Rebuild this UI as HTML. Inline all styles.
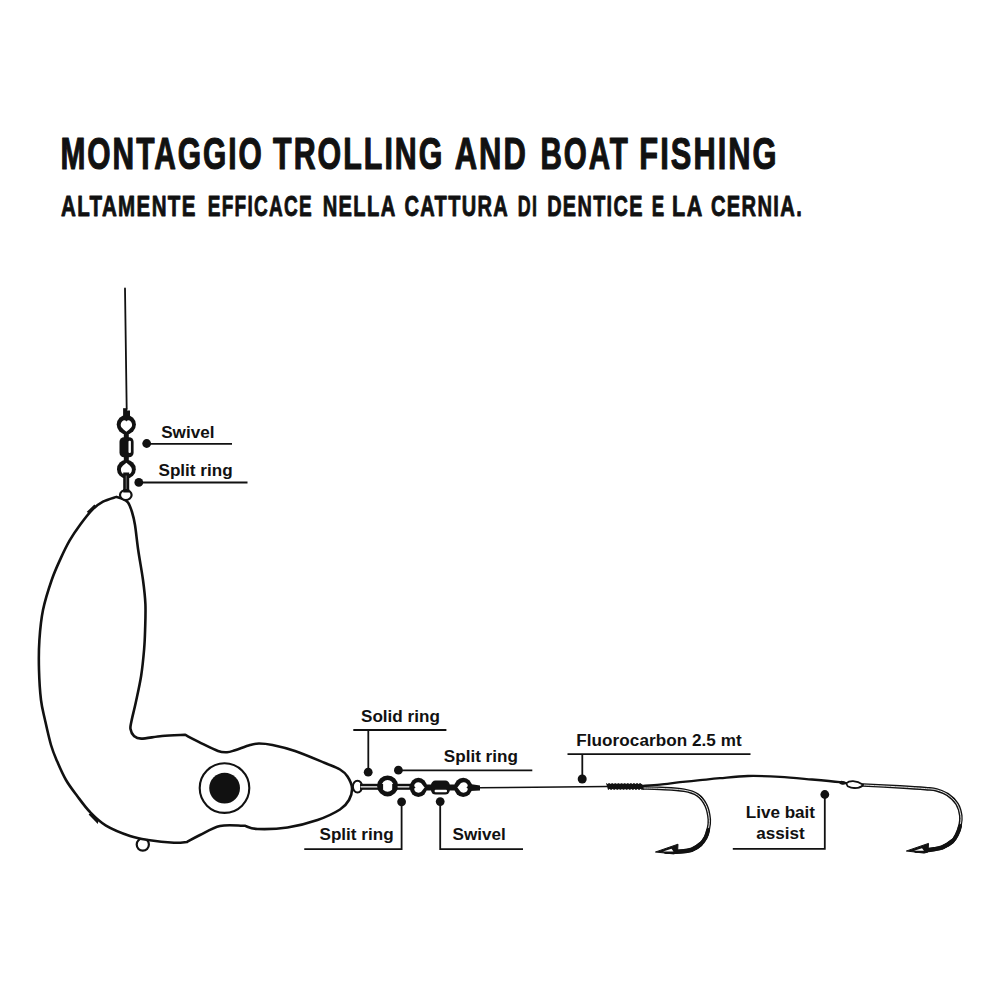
<!DOCTYPE html>
<html><head><meta charset="utf-8">
<style>
html,body{margin:0;padding:0;background:#fff;width:1000px;height:1000px;overflow:hidden}
body{position:relative;font-family:"Liberation Sans",sans-serif;color:#111}
.t{position:absolute;white-space:nowrap;font-weight:bold;transform-origin:0 0;line-height:1}
svg{position:absolute;left:0;top:0}
.lb{font-family:"Liberation Sans",sans-serif;font-weight:bold;font-size:17.1px;fill:#111}
</style></head><body>
<svg width="1000" height="1000" viewBox="0 0 1000 1000">
<g fill="none" stroke="#111" stroke-linecap="round" stroke-linejoin="round">
 <line x1="125" y1="288.5" x2="126.7" y2="409" stroke-width="1.8"/>
 <circle cx="142.8" cy="844.6" r="6.1" stroke-width="2.2" fill="#fff"/>
 <ellipse cx="357.5" cy="786.6" rx="4.6" ry="5.9" stroke-width="2" fill="#fff"/>
 <path d="M116.50 496.90 C117.42 497.17 120.08 497.58 122.00 498.50 C123.92 499.42 126.33 500.15 128.00 502.40 C129.67 504.65 130.83 508.23 132.00 512.00 C133.17 515.77 133.97 518.67 135.00 525.00 C136.03 531.33 136.87 540.83 138.20 550.00 C139.53 559.17 141.80 571.00 143.00 580.00 C144.20 589.00 145.05 595.67 145.40 604.00 C145.75 612.33 145.32 622.42 145.10 630.00 C144.88 637.58 144.75 641.92 144.10 649.50 C143.45 657.08 142.55 666.83 141.20 675.50 C139.85 684.17 137.62 693.92 136.00 701.50 C134.38 709.08 132.42 716.42 131.50 721.00 C130.58 725.58 130.08 726.50 130.50 729.00 C130.92 731.50 132.22 734.40 134.00 736.00 C135.78 737.60 136.53 738.60 141.20 738.60 C145.87 738.60 154.73 736.65 162.00 736.00 C169.27 735.35 181.00 734.92 184.80 734.70 C187.50 736.10 195.47 740.38 201.00 743.10 C206.53 745.82 213.67 749.48 218.00 751.00 C222.33 752.52 224.17 752.33 227.00 752.20 C229.83 752.08 231.17 751.45 235.00 750.25 C238.83 749.05 246.00 746.12 250.00 745.00 C254.00 743.88 255.25 743.50 259.00 743.50 C262.75 743.50 266.50 743.75 272.50 745.00 C278.50 746.25 286.25 748.00 295.00 751.00 C303.75 754.00 317.50 759.92 325.00 763.00 C332.50 766.08 336.25 767.25 340.00 769.50 C343.75 771.75 345.50 773.42 347.50 776.50 C349.50 779.58 351.75 784.08 352.00 788.00 C352.25 791.92 351.00 796.42 349.00 800.00 C347.00 803.58 345.25 806.17 340.00 809.50 C334.75 812.83 326.25 817.00 317.50 820.00 C308.75 823.00 297.50 826.00 287.50 827.50 C277.50 829.00 264.50 829.25 257.50 829.00 C250.50 828.75 247.50 826.50 245.50 826.00 C245.00 825.95 246.75 825.70 242.50 825.70 C238.25 825.70 227.08 824.45 220.00 826.00 C212.92 827.55 205.50 832.33 200.00 835.00 C194.50 837.67 189.17 840.83 187.00 842.00 C184.83 842.12 180.50 843.03 174.00 842.70 C167.50 842.37 155.33 841.12 148.00 840.00 C140.67 838.88 137.00 838.40 130.00 836.00 C123.00 833.60 112.67 829.60 106.00 825.60 C99.33 821.60 94.80 816.93 90.00 812.00 C85.20 807.07 81.20 801.33 77.20 796.00 C73.20 790.67 69.37 785.83 66.00 780.00 C62.63 774.17 59.50 766.83 57.00 761.00 C54.50 755.17 53.00 751.83 51.00 745.00 C49.00 738.17 46.67 727.50 45.00 720.00 C43.33 712.50 42.00 708.33 41.00 700.00 C40.00 691.67 39.27 680.00 39.00 670.00 C38.73 660.00 38.73 650.00 39.40 640.00 C40.07 630.00 40.95 620.00 43.00 610.00 C45.05 600.00 48.75 588.60 51.70 580.00 C54.65 571.40 57.70 565.00 60.70 558.40 C63.70 551.80 66.40 546.10 69.70 540.40 C73.00 534.70 76.75 529.30 80.50 524.20 C84.25 519.10 88.45 513.55 92.20 509.80 C95.95 506.05 98.95 503.85 103.00 501.70 C107.05 499.55 114.25 497.70 116.50 496.90 Z" stroke-width="2.6" fill="#fff"/>
 <path d="M86.8 511.8 L94.4 504.6 L96.4 506.4 L88.6 513.6 Z" fill="#111" stroke="none"/>
 <path d="M88.6 814.6 L91 812.6 L98.6 820 L97.8 824 Z" fill="#111" stroke="none"/>
 <circle cx="224.5" cy="788.1" r="24.8" stroke-width="2.1"/>
 <circle cx="224.6" cy="788.1" r="15.4" fill="#111" stroke="none"/>
 <!-- top chain -->
 <rect x="123.1" y="408.2" width="4" height="8" fill="#111" stroke="none"/>
 <rect x="125" y="410.5" width="5" height="6" fill="#111" stroke="none"/>
 <circle cx="126.3" cy="424.6" r="9.6" fill="#111" stroke="none"/>
 <path d="M0.00 5.85 C-2.28 3.51 -5.70 2.11 -5.70 -1.17 C-5.70 -4.21 -3.42 -5.85 -1.94 -5.85 C-0.80 -5.85 0.00 -4.91 0.00 -4.21 C0.00 -4.91 0.80 -5.85 1.94 -5.85 C3.42 -5.85 5.70 -4.21 5.70 -1.17 C5.70 2.11 2.28 3.51 0.00 5.85 Z" transform="translate(126.4 426) rotate(0)" fill="#fff" stroke="none"/>
 <rect x="123.8" y="432" width="5" height="7" fill="#111" stroke="none"/>
 <rect x="119.5" y="437.2" width="14.1" height="20.1" rx="4.5" fill="#111" stroke="none"/>
 <rect x="128.5" y="440.8" width="2.4" height="12.3" rx="1" fill="#fff" stroke="none"/>
 <rect x="123.8" y="456" width="5" height="5" fill="#111" stroke="none"/>
 <circle cx="126.4" cy="469.2" r="9.4" fill="#111" stroke="none"/>
 <path d="M0.00 5.75 C-2.20 3.45 -5.50 2.07 -5.50 -1.15 C-5.50 -4.14 -3.30 -5.75 -1.87 -5.75 C-0.77 -5.75 0.00 -4.83 0.00 -4.14 C0.00 -4.83 0.77 -5.75 1.87 -5.75 C3.30 -5.75 5.50 -4.14 5.50 -1.15 C5.50 2.07 2.20 3.45 0.00 5.75 Z" transform="translate(126.4 468.6) rotate(180)" fill="#fff" stroke="none"/>
 <rect x="123.2" y="472.5" width="6" height="20" fill="#111" stroke="none"/>
 <line x1="126.2" y1="476" x2="126.2" y2="490" stroke="#777" stroke-width="1"/>
 <ellipse cx="125.8" cy="495" rx="5.8" ry="5" stroke-width="2.2" fill="#fff"/>
 <rect x="123.2" y="489" width="6" height="3.5" fill="#111" stroke="none"/>
 <circle cx="146.7" cy="443.5" r="4.4" fill="#111" stroke="none"/>
 <line x1="146.7" y1="443.9" x2="232" y2="443.9" stroke-width="1.8" stroke-linecap="butt"/>
 <circle cx="138.8" cy="482.4" r="4.4" fill="#111" stroke="none"/>
 <line x1="138.8" y1="482.5" x2="247.5" y2="482.5" stroke-width="1.8" stroke-linecap="butt"/>
 <!-- right chain -->
 <rect x="360" y="783.8" width="19" height="6" fill="#111" stroke="none"/>
 <line x1="361" y1="786.8" x2="378" y2="786.8" stroke="#fff" stroke-width="1.2"/>
 <circle cx="387.6" cy="785.9" r="8.2" stroke-width="4.6"/>
 <rect x="380.5" y="784" width="2.6" height="5.4" fill="#111" stroke="none"/>
 <rect x="392.2" y="784" width="2.6" height="5.4" fill="#111" stroke="none"/>
 <rect x="396" y="783.8" width="15" height="6" fill="#111" stroke="none"/>
 <line x1="398" y1="786.8" x2="409" y2="786.8" stroke="#fff" stroke-width="1.2"/>
 <ellipse cx="418.4" cy="787.4" rx="8.6" ry="9.6" fill="#111" stroke="none"/>
 <path d="M0.00 5.25 C-2.10 3.15 -5.25 1.89 -5.25 -1.05 C-5.25 -3.78 -3.15 -5.25 -1.79 -5.25 C-0.74 -5.25 0.00 -4.41 0.00 -3.78 C0.00 -4.41 0.74 -5.25 1.79 -5.25 C3.15 -5.25 5.25 -3.78 5.25 -1.05 C5.25 1.89 2.10 3.15 0.00 5.25 Z" transform="translate(419.5 787.4) rotate(-90)" fill="#fff" stroke="none"/>
 <rect x="426" y="784.5" width="6" height="6" fill="#111" stroke="none"/>
 <rect x="431" y="780.6" width="18.8" height="14" rx="4.5" fill="#111" stroke="none"/>
 <rect x="434.6" y="789.8" width="12.4" height="2.4" rx="1" fill="#fff" stroke="none"/>
 <rect x="449" y="784.5" width="6" height="6" fill="#111" stroke="none"/>
 <ellipse cx="463.2" cy="787.4" rx="9" ry="9.6" fill="#111" stroke="none"/>
 <path d="M0.00 5.25 C-2.10 3.15 -5.25 1.89 -5.25 -1.05 C-5.25 -3.78 -3.15 -5.25 -1.79 -5.25 C-0.74 -5.25 0.00 -4.41 0.00 -3.78 C0.00 -4.41 0.74 -5.25 1.79 -5.25 C3.15 -5.25 5.25 -3.78 5.25 -1.05 C5.25 1.89 2.10 3.15 0.00 5.25 Z" transform="translate(462.5 787.4) rotate(90)" fill="#fff" stroke="none"/>
 <path d="M470 784 L480 785.5 L480 790.5 L470 791 Z" fill="#111" stroke="none"/>
 <path d="M479 787.8 L560 787 L607 786.5" stroke-width="1.6"/>
 <!-- wrap -->
 <path d="M606 783.2 L641 783.2 L644 786.6 L644 789.8 L608 789.8 Z" fill="#111" stroke="none"/>
 <line x1="607" y1="783.4" x2="642" y2="783.4" stroke="#fff" stroke-width="0.9" stroke-dasharray="1.2 1.9" stroke-linecap="butt"/>
 <line x1="609" y1="789.5" x2="643" y2="789.5" stroke="#fff" stroke-width="0.9" stroke-dasharray="1.2 1.9" stroke-linecap="butt"/>
 <!-- snell & hooks -->
 <path d="M642.00 786.00 C645.00 785.77 653.67 785.23 660.00 784.60 C666.33 783.97 673.33 782.93 680.00 782.20 C686.67 781.47 693.33 780.87 700.00 780.20 C706.67 779.53 712.00 778.90 720.00 778.20 C728.00 777.50 738.00 776.23 748.00 776.00 C758.00 775.77 769.33 776.22 780.00 776.80 C790.67 777.38 802.00 778.60 812.00 779.50 C822.00 780.40 834.00 781.53 840.00 782.20 C846.00 782.87 846.67 783.28 848.00 783.50" stroke-width="2.3"/>
 <path d="M644.00 788.00 C646.67 788.07 653.33 788.03 660.00 788.40 C666.67 788.77 677.73 789.10 684.00 790.20 C690.27 791.30 693.93 792.45 697.60 795.00 C701.27 797.55 704.05 801.42 706.00 805.50 C707.95 809.58 708.95 815.42 709.30 819.50 C709.65 823.58 708.72 827.00 708.10 830.00 C707.48 833.00 706.87 835.12 705.60 837.50 C704.33 839.88 702.77 842.28 700.50 844.30 C698.23 846.32 695.42 848.38 692.00 849.60 C688.58 850.82 684.33 851.23 680.00 851.60 C675.67 851.97 668.33 851.77 666.00 851.80" stroke-width="3.6"/>
 <path d="M644.00 788.00 C646.67 788.07 653.33 788.03 660.00 788.40 C666.67 788.77 677.73 789.10 684.00 790.20 C690.27 791.30 693.93 792.45 697.60 795.00 C701.27 797.55 704.05 801.42 706.00 805.50 C707.95 809.58 708.95 815.42 709.30 819.50 C709.65 823.58 708.72 827.00 708.10 830.00" stroke="#fff" stroke-width="0.9"/>
 <path d="M708.10 830.00 C707.48 833.00 706.87 835.12 705.60 837.50 C704.33 839.88 702.77 842.28 700.50 844.30 C698.23 846.32 695.42 848.38 692.00 849.60" stroke-width="4.0"/>
 <path d="M700.50 844.30 C698.23 846.32 695.42 848.38 692.00 849.60 C688.58 850.82 684.33 851.23 680.00 851.60 C675.67 851.97 668.33 851.77 666.00 851.80" stroke-width="4.5"/>
 <path d="M655.8 851.9 L678 844.2 L677.5 852.8 L674 853.8 Z" fill="#111" stroke-width="1" stroke-linejoin="miter"/>
 <path d="M663 851.6 L671.5 848.8 L673.5 851.6 Z" fill="#fff" stroke="none"/>
 <path d="M863.00 785.00 C869.17 785.32 889.58 786.30 900.00 786.90 C910.42 787.50 919.40 788.10 925.50 788.60 C931.60 789.10 932.92 788.90 936.60 789.90 C940.28 790.90 944.20 792.27 947.60 794.60 C951.00 796.93 954.80 800.37 957.00 803.90 C959.20 807.43 960.30 812.12 960.80 815.80 C961.30 819.48 960.63 822.88 960.00 826.00 C959.37 829.12 958.28 831.95 957.00 834.50 C955.72 837.05 954.72 839.17 952.30 841.30 C949.88 843.43 945.55 845.98 942.50 847.30 C939.45 848.62 936.75 848.72 934.00 849.20 C931.25 849.68 929.00 849.95 926.00 850.20 C923.00 850.45 917.67 850.62 916.00 850.70" stroke-width="3.6"/>
 <path d="M863.00 785.00 C869.17 785.32 889.58 786.30 900.00 786.90 C910.42 787.50 919.40 788.10 925.50 788.60 C931.60 789.10 932.92 788.90 936.60 789.90 C940.28 790.90 944.20 792.27 947.60 794.60 C951.00 796.93 954.80 800.37 957.00 803.90 C959.20 807.43 960.30 812.12 960.80 815.80 C961.30 819.48 960.63 822.88 960.00 826.00" stroke="#fff" stroke-width="0.9"/>
 <path d="M960.00 826.00 C959.37 829.12 958.28 831.95 957.00 834.50 C955.72 837.05 954.72 839.17 952.30 841.30 C949.88 843.43 945.55 845.98 942.50 847.30" stroke-width="4.0"/>
 <path d="M952.30 841.30 C949.88 843.43 945.55 845.98 942.50 847.30 C939.45 848.62 936.75 848.72 934.00 849.20 C931.25 849.68 929.00 849.95 926.00 850.20 C923.00 850.45 917.67 850.62 916.00 850.70" stroke-width="4.5"/>
 <path d="M906.7 850.9 L928.5 843.4 L928 852 L924.5 853 Z" fill="#111" stroke-width="1" stroke-linejoin="miter"/>
 <path d="M914 850.7 L922 848.2 L924 850.8 Z" fill="#fff" stroke="none"/>
 <path d="M846.2 783.4 C849 780.6, 856 779.8, 863.2 784.8 C861 788.4, 853 789.2, 847.6 786.2 Z" stroke-width="1.7" fill="#fff"/>
 <path d="M853 787.6 C856 788.4, 860 787.6, 862.6 785.4" stroke-width="1.2"/>
 <ellipse cx="842.3" cy="782.8" rx="3.2" ry="1.9" transform="rotate(8 842.3 782.8)" fill="#111" stroke="none"/>
 <!-- label lines -->
 <line x1="353.3" y1="730" x2="446.4" y2="730" stroke-width="1.8" stroke-linecap="butt"/>
 <line x1="368.3" y1="730" x2="368.3" y2="772" stroke-width="1.8" stroke-linecap="butt"/>
 <circle cx="368.2" cy="772.2" r="4.4" fill="#111" stroke="none"/>
 <circle cx="398.4" cy="770.2" r="4.4" fill="#111" stroke="none"/>
 <line x1="398.4" y1="770.4" x2="532.3" y2="770.4" stroke-width="1.8" stroke-linecap="butt"/>
 <circle cx="401.6" cy="801.8" r="4.4" fill="#111" stroke="none"/>
 <polyline points="401.6,802 401.6,849.2 304.25,849.2" stroke-width="1.8" stroke-linecap="butt" stroke-linejoin="miter"/>
 <circle cx="440.2" cy="801.6" r="4.4" fill="#111" stroke="none"/>
 <polyline points="440.2,802 440.2,849.2 523,849.2" stroke-width="1.8" stroke-linecap="butt" stroke-linejoin="miter"/>
 <line x1="567.5" y1="754.2" x2="750.5" y2="754.2" stroke-width="1.8" stroke-linecap="butt"/>
 <line x1="582.3" y1="754" x2="582.3" y2="779" stroke-width="1.8" stroke-linecap="butt"/>
 <circle cx="582.2" cy="779" r="4.5" fill="#111" stroke="none"/>
 <circle cx="824.8" cy="794.5" r="4.4" fill="#111" stroke="none"/>
 <polyline points="824.8,794.5 824.8,848.8 732.8,848.8" stroke-width="1.8" stroke-linecap="butt" stroke-linejoin="miter"/>
</g>
<g font-family="Liberation Sans, sans-serif" font-weight="bold" fill="#111">
<g font-size="45" stroke="#111" stroke-width="1.2" stroke-linejoin="round">
<text transform="translate(60.40 168.8) scale(0.6647 1)" letter-spacing="3">MONTAGGIO</text>
<text transform="translate(273.07 168.8) scale(0.6750 1)" letter-spacing="3">TROLLING</text>
<text transform="translate(454.66 168.8) scale(0.6883 1)" letter-spacing="3">AND</text>
<text transform="translate(540.42 168.8) scale(0.6570 1)" letter-spacing="3">BOAT</text>
<text transform="translate(639.36 168.8) scale(0.6840 1)" letter-spacing="3">FISHING</text>
</g>
<g font-size="30.4" stroke="#111" stroke-width="0.9" stroke-linejoin="round">
<text transform="translate(61.01 216) scale(0.6758 1)" letter-spacing="2">ALTAMENTE</text>
<text transform="translate(207.78 216) scale(0.6261 1)" letter-spacing="2">EFFICACE</text>
<text transform="translate(322.72 216) scale(0.6634 1)" letter-spacing="2">NELLA</text>
<text transform="translate(404.51 216) scale(0.6592 1)" letter-spacing="2">CATTURA</text>
<text transform="translate(517.84 216) scale(0.5887 1)" letter-spacing="2">DI</text>
<text transform="translate(547.18 216) scale(0.6550 1)" letter-spacing="2">DENTICE</text>
<text transform="translate(651.80 216) scale(0.6139 1)" letter-spacing="2">E</text>
<text transform="translate(672.10 216) scale(0.7094 1)" letter-spacing="2">LA</text>
<text transform="translate(710.90 216) scale(0.6634 1)" letter-spacing="2">CERNIA.</text>
</g>
</g>
<g class="lb">
 <text x="161.2" y="437.8">Swivel</text>
 <text x="158.5" y="476.2">Split ring</text>
 <text x="361" y="721.6">Solid ring</text>
 <text x="443.8" y="762">Split ring</text>
 <text x="319.5" y="840.4">Split ring</text>
 <text x="452.5" y="840.4">Swivel</text>
 <text x="576.3" y="745.5" letter-spacing="0.06">Fluorocarbon 2.5 mt</text>
 <text x="780.4" y="818.4" text-anchor="middle">Live bait</text>
 <text x="780.4" y="839.2" text-anchor="middle">assist</text>
</g>
</svg>
</body></html>
